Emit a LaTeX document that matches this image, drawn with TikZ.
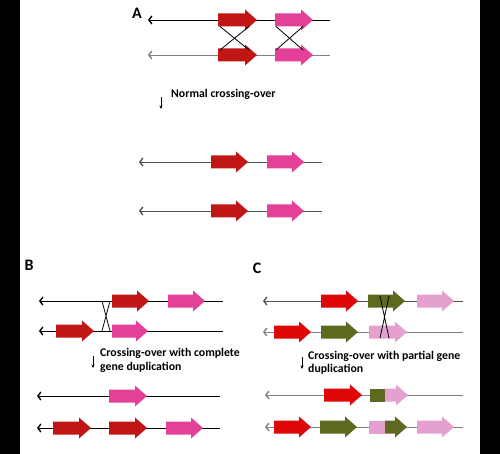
\documentclass[tikz,border=0pt]{standalone}
\usepackage{fontspec}
\setmainfont{Carlito}
\usetikzlibrary{arrows.meta}
\definecolor{dred}{RGB}{192,22,22}
\definecolor{gpink}{RGB}{228,64,152}
\definecolor{bred}{RGB}{222,6,6}
\definecolor{olive}{RGB}{94,104,30}
\definecolor{lpink}{RGB}{228,160,206}
\definecolor{lgrey}{RGB}{128,128,128}
\definecolor{mgrey}{RGB}{80,80,80}
\newcommand\gene[4]{\fill[#4] (#1,#3-6.5) -- (#2-12,#3-6.5) -- (#2-12,#3-10.5) -- (#2,#3) -- (#2-12,#3+10.5) -- (#2-12,#3+6.5) -- (#1,#3+6.5) -- cycle;}
\newcommand\genebox[4]{\fill[#4] (#1,#3-6.5) rectangle (#2,#3+6.5);}
\tikzset{
  strand/.style={line width=0.9pt,{Straight Barb[length=3pt,width=8pt,line width=1.4pt]}-},
  lbl/.style={font=\bfseries\fontsize{16}{16}\selectfont,inner sep=0pt},
  txt/.style={font=\bfseries\fontsize{11.8}{13}\selectfont,inner sep=0pt,anchor=west},
  cross/.style={line width=0.8pt,black},
  down/.style={line width=0.6pt,-{Stealth[length=3.5pt,width=3pt]}}
}
\begin{document}
\begin{tikzpicture}[x=1pt,y=-1pt]
\useasboundingbox (0,0) rectangle (500,454);
\fill[white] (0,0) rectangle (500,454);
\fill[black] (0,0) rectangle (20,454);
\fill[black] (480,0) rectangle (500,454);
% ---------- Panel A ----------
\node[lbl] (la) at (137,13) {A};
\coordinate (a1l) at (148,20); \coordinate (a1r) at (330,20);
\coordinate (a2l) at (148,55); \coordinate (a2r) at (330,55);
\draw[strand,black] (a1l) -- (a1r);
\draw[strand,lgrey] (a2l) -- (a2r);
\gene{218}{257}{20}{dred}
\gene{275}{313}{20}{gpink}
\gene{218}{257}{55}{dred}
\gene{275}{313}{55}{gpink}
\draw[cross] (220,26.5) -- (249,50) (249,26.5) -- (220,50);
\draw[cross] (276,26.5) -- (303,50) (303,26.5) -- (276,50);
\coordinate (da1) at (161,97); \coordinate (da2) at (161,109);
\draw[down] (da1) -- (da2);
\node[txt] (ta) at (171,94) {Normal crossing-over};
\coordinate (a3l) at (139,162); \coordinate (a3r) at (322,162);
\coordinate (a4l) at (139,211); \coordinate (a4r) at (322,211);
\draw[strand,mgrey] (a3l) -- (a3r);
\draw[strand,mgrey] (a4l) -- (a4r);
\gene{211}{248}{162}{dred}
\gene{267}{304}{162}{gpink}
\gene{211}{248}{211}{dred}
\gene{267}{304}{211}{gpink}
% ---------- Panel B ----------
\node[lbl] (lb) at (29,265) {B};
\coordinate (b1l) at (39,301); \coordinate (b1r) at (223,301);
\coordinate (b2l) at (39,331); \coordinate (b2r) at (223,331);
\draw[strand,black] (b1l) -- (b1r);
\draw[strand,black] (b2l) -- (b2r);
\gene{112}{149}{301}{dred}
\gene{168}{205}{301}{gpink}
\gene{56}{94}{331}{dred}
\gene{112}{148}{331}{gpink}
\draw[cross] (102,301) -- (110,331) (110,301) -- (102,331);
\coordinate (db1) at (93,356); \coordinate (db2) at (93,368);
\draw[down] (db1) -- (db2);
\node[txt] (tb1) at (100,353) {Crossing-over with complete};
\node[txt] (tb2) at (100,367) {gene duplication};
\coordinate (b3l) at (37,396); \coordinate (b3r) at (220,396);
\coordinate (b4l) at (37,428); \coordinate (b4r) at (220,428);
\draw[strand,black] (b3l) -- (b3r);
\draw[strand,black] (b4l) -- (b4r);
\gene{109}{147}{396}{gpink}
\gene{53}{91}{428}{dred}
\gene{109}{147}{428}{dred}
\gene{166}{203}{428}{gpink}
% ---------- Panel C ----------
\node[lbl] (lc) at (257,268) {C};
\coordinate (c1l) at (263,301); \coordinate (c1r) at (463,301);
\coordinate (c2l) at (263,332); \coordinate (c2r) at (463,332);
\draw[strand,mgrey] (c1l) -- (c1r);
\draw[strand,lgrey] (c2l) -- (c2r);
\gene{321}{358}{301}{bred}
\gene{368}{405}{301}{olive}
\gene{417}{454}{301}{lpink}
\gene{274}{311}{332}{bred}
\gene{321}{358}{332}{olive}
\gene{369}{407}{332}{lpink}
\draw[cross] (380,296) -- (389,338) (389,296) -- (380,338);
\coordinate (dc1) at (302,357); \coordinate (dc2) at (302,369);
\draw[down] (dc1) -- (dc2);
\node[txt] (tc1) at (308,356) {Crossing-over with partial gene};
\node[txt] (tc2) at (308,369) {duplication};
\coordinate (c3l) at (265,395); \coordinate (c3r) at (463,395);
\coordinate (c4l) at (265,427); \coordinate (c4r) at (463,427);
\draw[strand,lgrey] (c3l) -- (c3r);
\draw[strand,lgrey] (c4l) -- (c4r);
\gene{324}{362}{395}{bred}
\genebox{370}{385}{395}{olive}
\gene{385}{408}{395}{lpink}
\gene{274}{311}{427}{bred}
\gene{320}{357}{427}{olive}
\genebox{369}{385}{427}{lpink}
\gene{385}{407}{427}{olive}
\gene{417}{454}{427}{lpink}
\end{tikzpicture}
\end{document}
